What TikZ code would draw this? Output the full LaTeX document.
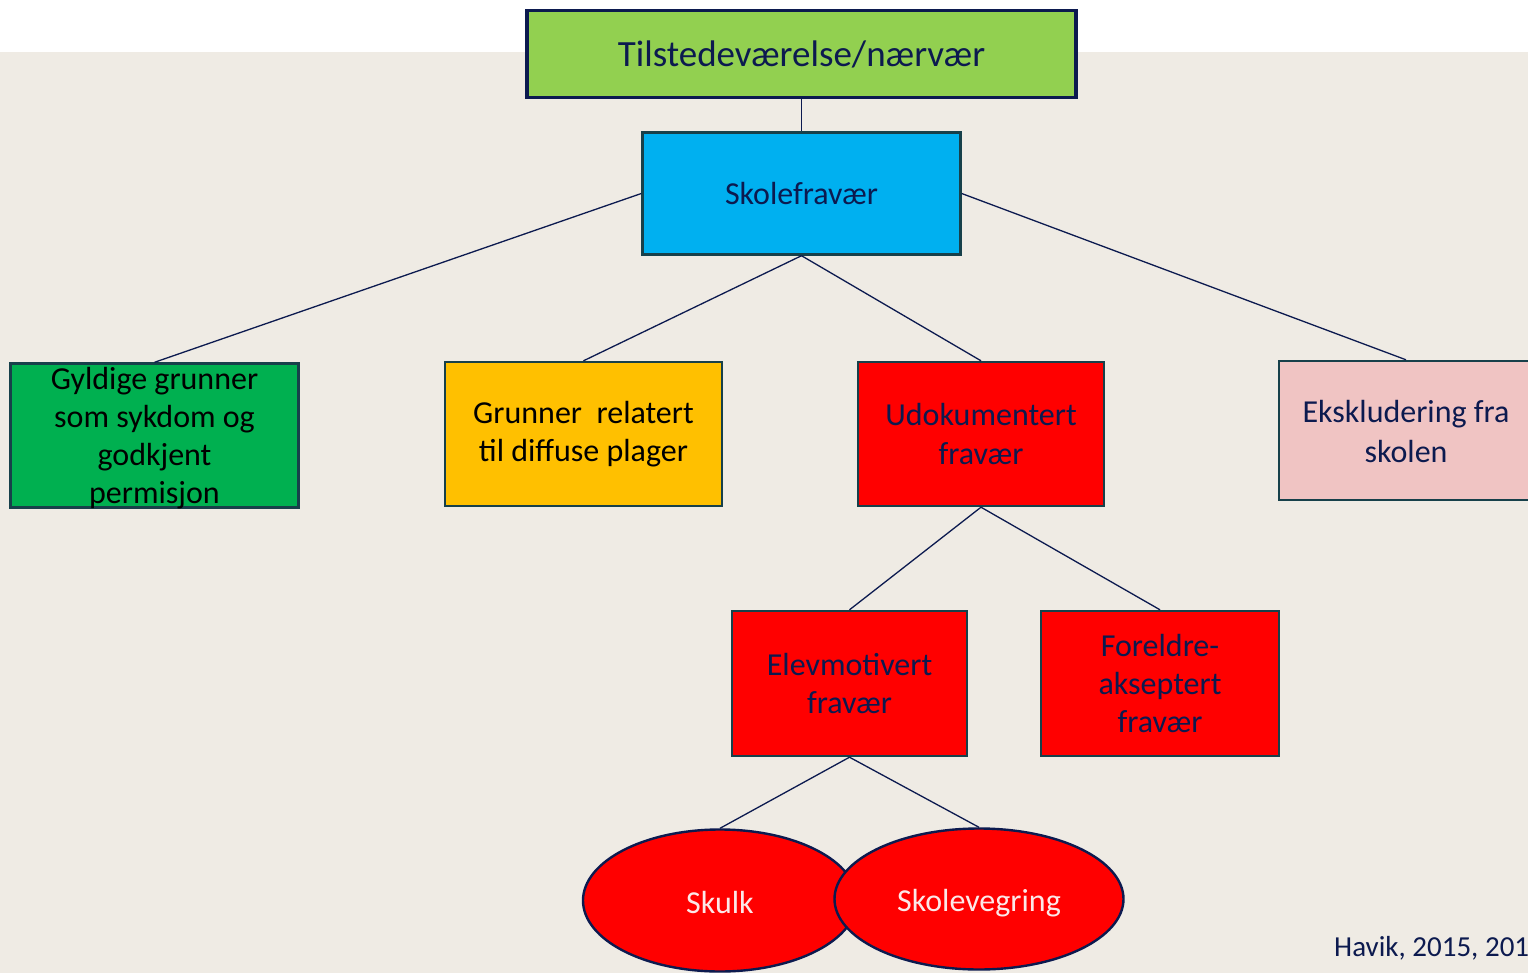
\documentclass[tikz,border=0pt]{standalone}
\usepackage{fontspec}
\setmainfont{Carlito}
\usetikzlibrary{shapes.geometric}
\definecolor{bgbeige}{HTML}{EFEBE4}
\definecolor{navy}{HTML}{0C1A4F}
\definecolor{boxedge}{HTML}{17404A}
\definecolor{limegreen}{HTML}{92D050}
\definecolor{skyblue}{HTML}{00B0F0}
\definecolor{darkgreen}{HTML}{00B050}
\definecolor{amber}{HTML}{FFC000}
\definecolor{pinkish}{HTML}{F0C4C3}
\definecolor{lightpink}{HTML}{FCE8E8}
\tikzset{
  box/.style={draw=boxedge, line width=2.4pt, inner sep=0pt, align=center, font=\fontsize{32}{38.5}\selectfont},
  conn/.style={draw=navy, line width=1.3pt},
  oval/.style={ellipse, draw=navy, line width=2.4pt, fill=red, inner sep=0pt, text=lightpink, font=\fontsize{32}{38}\selectfont, text height=25pt, text depth=0pt}
}
\begin{document}
\begin{tikzpicture}[x=1pt,y=-1pt]
\useasboundingbox (0,0) rectangle (1528,973);
\clip (0,0) rectangle (1528,973);
\fill[white] (0,0) rectangle (1528,52);
\fill[bgbeige] (0,52) rectangle (1528,973);
% top
\node[draw=navy, line width=3.5pt, fill=limegreen, minimum width=549pt, minimum height=87pt, inner sep=0pt, font=\fontsize{37}{44}\selectfont, text=navy] (top) at (801.5,54) {Tilstedeværelse/nærvær};
\node[box, fill=skyblue, text=navy, minimum width=318pt, minimum height=122pt] (skole) at (801.5,193.5) {Skolefravær};
\node[box, fill=darkgreen, text=black, minimum width=288pt, minimum height=144pt] (gyl) at (154.5,435.5) {};
\node[font=\fontsize{32}{38}\selectfont, align=center, text=black] (gyltext) at (154.5,438) {Gyldige grunner\\som sykdom og\\godkjent\\permisjon};
\node[box, fill=amber, text=black, minimum width=277pt, minimum height=144pt] (grun) at (583.5,434) {Grunner\ \ relatert\\til diffuse plager};
\node[box, fill=red, text=navy, minimum width=246pt, minimum height=144pt] (udok) at (981,434) {Udokumentert\\fravær};
\node[box, fill=pinkish, text=navy, minimum width=270pt, minimum height=139pt] (eks) at (1414,430.5) {};
\node[font=\fontsize{32}{40}\selectfont, align=center, text=navy] (ekstext) at (1406,432) {Ekskludering fra\\skolen};
\node[box, fill=red, text=navy, minimum width=235pt, minimum height=145pt, font=\fontsize{32}{38}\selectfont] (elev) at (849.5,683.5) {Elevmotivert\\fravær};
\node[box, fill=red, text=navy, minimum width=238pt, minimum height=145pt, font=\fontsize{32}{38}\selectfont] (forel) at (1160,683.5) {Foreldre-\\akseptert\\fravær};
\node[oval, minimum width=274pt, minimum height=142pt] (skulk) at (720,900.5) {Skulk};
\node[oval, minimum width=289pt, minimum height=141pt] (vegr) at (979,899) {Skolevegring};
\node[anchor=west, font=\fontsize{29}{34}\selectfont, text=navy, inner sep=0pt] (havik) at (1334,948) {Havik, 2015, 201};
% connectors
\draw[conn] (top.south) -- (skole.north);
\draw[conn] (skole.west) -- (gyl.north);
\draw[conn] (skole.south) -- (grun.north);
\draw[conn] (skole.south) -- (udok.north);
\draw[conn] (skole.east) -- (ekstext.north |- eks.north);
\draw[conn] (udok.south) -- (elev.north);
\draw[conn] (udok.south) -- (forel.north);
\draw[conn] (elev.south) -- (skulk.north);
\draw[conn] (elev.south) -- (vegr.north);
\end{tikzpicture}
\end{document}
